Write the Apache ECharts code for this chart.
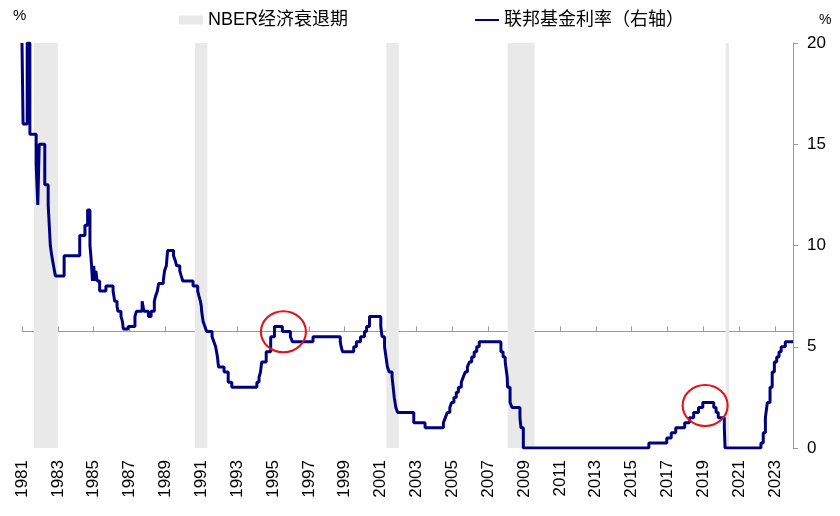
<!DOCTYPE html>
<html>
<head>
<meta charset="utf-8">
<title>联邦基金利率</title>
<script src="https://cdn.jsdelivr.net/npm/echarts@6/dist/echarts.min.js"></script>
<style>
    html, body {margin: 0; padding: 0; background: #fff;}
    #main {width: 840px; height: 516px;}
</style>
</head>
<body>
<div id="main"></div>
<script>
var baseYear = 1981;
var endYear = 2024;
/*NBER经济衰退期 起止（年）*/
var recStart = [1981.67, 1990.65, 2001.32, 2008.09, 2020.24];
var recEnd = [1983.0, 1991.34, 2002.01, 2009.58, 2020.43];
/*联邦基金利率：变动日期（年）与数值（%）*/
var rateDates = [
    1981.00, 1981.06, 1981.29, 1981.44, 1981.79, 1981.88, 1981.96, 1982.27, 1982.46, 1982.52,
    1982.58, 1982.66, 1982.76, 1982.86, 1983.35, 1984.22, 1984.51, 1984.66, 1984.79, 1984.84,
    1984.88, 1984.93, 1985.00, 1985.06, 1985.12, 1985.19, 1985.33, 1985.68, 1986.08, 1986.17,
    1986.30, 1986.35, 1986.52, 1986.60, 1986.65, 1986.92, 1987.30, 1987.38, 1987.70, 1987.80,
    1988.05, 1988.20, 1988.38, 1988.45, 1988.55, 1988.62, 1988.88, 1988.95, 1989.05, 1989.12,
    1989.45, 1989.55, 1989.62, 1989.80, 1989.88, 1989.97, 1990.54, 1990.80, 1990.87, 1990.95,
    1991.00, 1991.02, 1991.10, 1991.20, 1991.30, 1991.60, 1991.70, 1991.80, 1991.85, 1991.90,
    1991.96, 1992.27, 1992.50, 1992.70, 1994.10, 1994.22, 1994.30, 1994.37, 1994.62, 1994.87,
    1995.08, 1995.52, 1995.97, 1996.08, 1997.23, 1998.75, 1998.80, 1998.88, 1999.50, 1999.65,
    1999.88, 2000.10, 2000.22, 2000.38, 2001.01, 2001.08, 2001.22, 2001.30, 2001.38, 2001.48,
    2001.64, 2001.70, 2001.76, 2001.85, 2001.95, 2002.85, 2003.48, 2004.50, 2004.61, 2004.72,
    2004.86, 2004.96, 2005.09, 2005.22, 2005.34, 2005.50, 2005.61, 2005.72, 2005.84, 2005.95,
    2006.08, 2006.22, 2006.36, 2006.50, 2007.71, 2007.83, 2007.95, 2008.06, 2008.08, 2008.22,
    2008.33, 2008.77, 2008.83, 2008.96, 2015.96, 2016.96, 2017.21, 2017.46, 2017.96, 2018.22,
    2018.46, 2018.73, 2018.97, 2019.58, 2019.71, 2019.83, 2020.17, 2020.21, 2022.21, 2022.34,
    2022.46, 2022.57, 2022.72, 2022.84, 2022.96, 2023.09, 2023.22, 2023.34, 2023.57, 2024.00
];
var rateValues = [
    20, 16, 20, 15.5, 14, 12, 15, 13, 12, 11,
    10, 9.5, 9, 8.5, 9.5, 10.5, 11, 11.75, 10, 9.5,
    9, 8.25, 9, 8.25, 8.75, 8.25, 7.75, 8, 7.75, 7.25,
    7, 6.75, 6.5, 6.25, 5.875, 6, 6.5, 6.75, 7.25, 6.75,
    6.5, 6.75, 7.25, 7.5, 7.75, 8.125, 8.25, 8.75, 9, 9.75,
    9.5, 9.25, 9, 8.75, 8.5, 8.25, 8, 7.75, 7.5, 7.25,
    7, 6.75, 6.25, 6, 5.75, 5.5, 5.25, 5, 4.75, 4.5,
    4, 3.75, 3.25, 3, 3.25, 3.5, 3.75, 4.25, 4.75, 5.5,
    6, 5.75, 5.5, 5.25, 5.5, 5.25, 5, 4.75, 5, 5.25,
    5.5, 5.75, 6, 6.5, 6, 5.5, 5, 4.5, 4, 3.75,
    3.5, 3, 2.5, 2, 1.75, 1.25, 1, 1.25, 1.5, 1.75,
    2, 2.25, 2.5, 2.75, 3, 3.25, 3.5, 3.75, 4, 4.25,
    4.5, 4.75, 5, 5.25, 4.75, 4.5, 4.25, 3.5, 3, 2.25,
    2, 1.5, 1, 0, 0.25, 0.5, 0.75, 1, 1.25, 1.5,
    1.75, 2, 2.25, 2, 1.75, 1.5, 1, 0, 0.25, 0.75,
    1.5, 2.25, 3, 3.75, 4.25, 4.5, 4.75, 5, 5.25, 5.25
];
/*红圈标注位置（年, %）*/
var circleDates = [1995.58, 2019.1];
var circleValues = [5.74, 2.1];

var fontFam = "'Liberation Sans', Arial, 'Noto Sans CJK SC', sans-serif";

var rateChart = function () {
    var box = document.getElementById('main');
    var myChart = echarts.init(box);

    var lineData = [];
    rateDates.forEach(function (d, i) {
        lineData.push([d - baseYear, rateValues[i]]);
    });
    var areas = [];
    recStart.forEach(function (s, i) {
        areas.push([{xAxis: s - baseYear}, {xAxis: recEnd[i] - baseYear}]);
    });
    var circles = [];
    circleDates.forEach(function (d, i) {
        circles.push({coord: [d - baseYear, circleValues[i]]});
    });

    var span = endYear - baseYear;
    var options = {
        animation: false,
        textStyle: {fontFamily: fontFam},
        grid: {left: 22, right: 47, top: 43, bottom: 68, containLabel: false},
        legend: {
            left: 174,
            top: 6,
            itemWidth: 24,
            itemHeight: 9,
            itemGap: 126,
            textStyle: {fontSize: 18, color: '#000', fontFamily: fontFam},
            data: [
                {name: 'NBER经济衰退期', icon: 'rect'},
                //图例里只要线，不要圆点
                {name: '联邦基金利率（右轴）', itemStyle: {color: 'rgba(0,0,0,0)', borderWidth: 0}}
            ]
        },
        graphic: [
            {type: 'text', left: 13, top: 8, style: {text: '%', fontSize: 15, fill: '#000', fontFamily: fontFam}},
            {type: 'text', left: 819, top: 13, style: {text: '%', fontSize: 14, fill: '#000', fontFamily: fontFam}}
        ],
        xAxis: [
            {//底部年份标签
                type: 'value',
                min: 0,
                max: span,
                interval: 2,
                position: 'bottom',
                axisLine: {show: false, onZero: false},
                axisTick: {show: false},
                splitLine: {show: false},
                axisLabel: {
                    rotate: 90,
                    fontSize: 17,
                    color: '#000',
                    margin: 12,
                    showMaxLabel: false,
                    formatter: function (v) {
                        return v % 2 === 0 ? String(baseYear + v) : '';
                    }
                }
            },
            {//左轴零线（灰线）
                type: 'value',
                min: 0,
                max: span,
                interval: 2,
                position: 'bottom',
                axisLine: {show: true, onZero: true, onZeroAxisIndex: 0, lineStyle: {color: '#9a9a9a', width: 1}},
                axisTick: {show: true, inside: true, length: 5, lineStyle: {color: '#9a9a9a'}},
                axisLabel: {show: false},
                splitLine: {show: false}
            }
        ],
        yAxis: [
            {//左轴，不显示刻度
                type: 'value',
                min: -5.76,
                max: 14.24,
                show: false,
                axisLine: {onZero: false}
            },
            {
                type: 'value',
                position: 'right',
                min: 0,
                max: 20,
                interval: 5,
                axisLine: {show: true, onZero: false, lineStyle: {color: '#9a9a9a'}},
                axisTick: {show: true, length: 5, lineStyle: {color: '#9a9a9a'}},
                splitLine: {show: false},
                axisLabel: {fontSize: 17, color: '#000', margin: 14}
            }
        ],
        series: [
            {
                name: 'NBER经济衰退期',
                type: 'line',
                xAxisIndex: 0,
                yAxisIndex: 1,
                data: [],
                itemStyle: {color: '#e9e9e9'},
                lineStyle: {color: '#e9e9e9'},
                markArea: {
                    silent: true,
                    itemStyle: {color: '#e9e9e9'},
                    data: areas
                }
            },
            {
                name: '联邦基金利率（右轴）',
                type: 'line',
                xAxisIndex: 0,
                yAxisIndex: 1,
                step: 'end',
                symbol: 'none',
                data: lineData,
                itemStyle: {color: '#00007f'},
                lineStyle: {color: '#00007f', width: 3},
                z: 3,
                markPoint: {
                    symbol: 'circle',
                    symbolSize: [45, 41],
                    silent: true,
                    label: {show: false},
                    itemStyle: {color: 'rgba(0,0,0,0)', borderColor: '#e3131b', borderWidth: 2},
                    data: circles
                }
            }
        ]
    };
    myChart.setOption(options);
};
rateChart();
</script>
</body>
</html>
